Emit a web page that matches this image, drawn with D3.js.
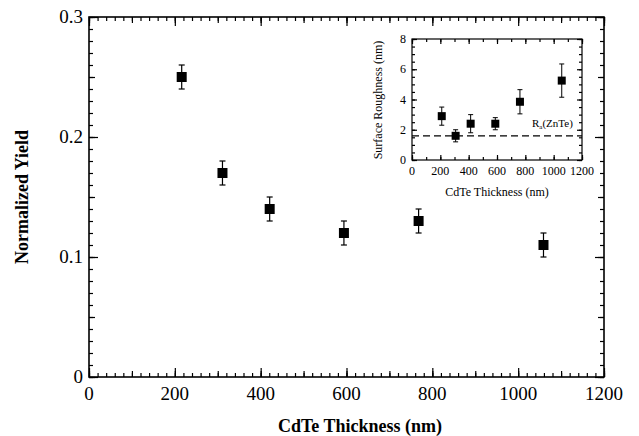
<!DOCTYPE html>
<html>
<head>
<meta charset="utf-8">
<script src="https://cdn.jsdelivr.net/npm/d3@7"></script>
<style>
  body { margin: 0; background: #fff; }
  svg { display: block; font-family: "Liberation Serif", "Times New Roman", serif; }
</style>
</head>
<body>
<div id="chart"></div>
<script>
// main panel: normalized yield vs CdTe thickness
var thickness = [216, 311, 421, 594, 768, 1059];
var yieldVals = [0.25, 0.17, 0.14, 0.12, 0.13, 0.11];
var yieldErr = [0.01, 0.01, 0.01, 0.01, 0.01, 0.01];
var xTickLabels = [0, 200, 400, 600, 800, 1000, 1200];
var yTickLabels = [0, 0.1, 0.2, 0.3];

// inset: surface roughness vs CdTe thickness
var insetThickness = [210, 308, 414, 588, 762, 1057];
var roughness = [2.9, 1.6, 2.4, 2.4, 3.85, 5.25];
var roughErr = [0.6, 0.4, 0.6, 0.4, 0.8, 1.1];
var insetYTickLabels = [0, 2, 4, 6, 8];
var raZnTe = 1.6;

var width = 639, height = 436;

var svg = d3.select('#chart').append('svg')
    .attr('width', width)
    .attr('height', height);

/* Main scales */
var x = d3.scaleLinear().domain([0, 1200]).range([89, 604]);
var y = d3.scaleLinear().domain([0, 0.3]).range([377, 17]);

/* Inset scales */
var xi = d3.scaleLinear().domain([0, 1200]).range([412, 582]);
var yi = d3.scaleLinear().domain([0, 8]).range([160, 39]);

function drawTicks(g, scale, orient, values, len) {
    var axisFn = {bottom: d3.axisBottom, top: d3.axisTop, left: d3.axisLeft, right: d3.axisRight}[orient];
    var axis = axisFn(scale).tickValues(values).tickSize(-len).tickFormat('');
    var r = (orient === 'bottom' || orient === 'top') ? y.range() : x.range();
    g.call(axis);
    g.select('.domain').remove();
    g.selectAll('line').attr('stroke', '#000').attr('stroke-width', 1.2);
}

function frame(xs, ys, opts) {
    var xr = xs.range(), yr = ys.range();
    var pos = {
        bottom: 'translate(0,' + yr[0] + ')',
        top: 'translate(0,' + yr[1] + ')',
        left: 'translate(' + xr[0] + ',0)',
        right: 'translate(' + xr[1] + ',0)'
    };
    opts.sets.forEach(function (s) {
        ['bottom', 'top'].forEach(function (o) {
            drawTicks(svg.append('g').attr('transform', pos[o]), xs, o, s.xv, s.len);
        });
        ['left', 'right'].forEach(function (o) {
            drawTicks(svg.append('g').attr('transform', pos[o]), ys, o, s.yv, s.len);
        });
    });
    svg.append('rect')
        .attr('x', xr[0]).attr('y', yr[1])
        .attr('width', xr[1] - xr[0]).attr('height', yr[0] - yr[1])
        .attr('fill', 'none').attr('stroke', '#000').attr('stroke-width', opts.sw);
}

/* Main frame with minor/medium/major ticks */
frame(x, y, {
    sw: 1.6,
    sets: [
        {xv: d3.range(0, 1201, 20), yv: d3.range(0, 0.3001, 0.01), len: 4},
        {xv: d3.range(0, 1201, 100), yv: d3.range(0, 0.3001, 0.05), len: 6},
        {xv: xTickLabels, yv: yTickLabels, len: 9}
    ]
});

svg.append('g').selectAll('text').data(xTickLabels).enter().append('text')
    .attr('x', function (d) { return x(d); })
    .attr('y', 400)
    .attr('text-anchor', 'middle')
    .attr('font-size', 19)
    .text(function (d) { return d; });

svg.append('g').selectAll('text').data(yTickLabels).enter().append('text')
    .attr('x', 83)
    .attr('y', function (d) { return y(d) + 6; })
    .attr('text-anchor', 'end')
    .attr('font-size', 19)
    .text(function (d) { return d === 0 ? '0' : d3.format('.1f')(d); });

svg.append('text')
    .attr('x', 360).attr('y', 432)
    .attr('text-anchor', 'middle')
    .attr('font-size', 18).attr('font-weight', 'bold')
    .text('CdTe Thickness (nm)');

svg.append('text')
    .attr('transform', 'translate(28,197) rotate(-90)')
    .attr('text-anchor', 'middle')
    .attr('font-size', 18).attr('font-weight', 'bold')
    .text('Normalized Yield');

/* Main data */
var mainPts = svg.append('g').selectAll('g').data(thickness).enter().append('g');
mainPts.append('line')
    .attr('x1', function (d) { return x(d); })
    .attr('x2', function (d) { return x(d); })
    .attr('y1', function (d, i) { return y(yieldVals[i] - yieldErr[i]); })
    .attr('y2', function (d, i) { return y(yieldVals[i] + yieldErr[i]); })
    .attr('stroke', '#000').attr('stroke-width', 1.2);
[-1, 1].forEach(function (s) {
    mainPts.append('line')
        .attr('x1', function (d) { return x(d) - 3; })
        .attr('x2', function (d) { return x(d) + 3; })
        .attr('y1', function (d, i) { return y(yieldVals[i] + s * yieldErr[i]); })
        .attr('y2', function (d, i) { return y(yieldVals[i] + s * yieldErr[i]); })
        .attr('stroke', '#000').attr('stroke-width', 1.2);
});
mainPts.append('rect')
    .attr('x', function (d) { return x(d) - 5; })
    .attr('y', function (d, i) { return y(yieldVals[i]) - 5; })
    .attr('width', 10).attr('height', 10)
    .attr('fill', '#000');

/* Inset frame */
frame(xi, yi, {
    sw: 1.2,
    sets: [
        {xv: d3.range(0, 1201, 100), yv: d3.range(0, 8.001, 0.5), len: 3},
        {xv: d3.range(0, 1201, 200), yv: insetYTickLabels, len: 5}
    ]
});

svg.append('g').selectAll('text').data(d3.range(0, 1201, 200)).enter().append('text')
    .attr('x', function (d) { return xi(d); })
    .attr('y', 175)
    .attr('text-anchor', 'middle')
    .attr('font-size', 12)
    .text(function (d) { return d; });

svg.append('g').selectAll('text').data(insetYTickLabels).enter().append('text')
    .attr('x', 406)
    .attr('y', function (d) { return yi(d) + 4; })
    .attr('text-anchor', 'end')
    .attr('font-size', 12)
    .text(function (d) { return d; });

svg.append('text')
    .attr('x', 497).attr('y', 196)
    .attr('text-anchor', 'middle')
    .attr('font-size', 12)
    .text('CdTe Thickness (nm)');

svg.append('text')
    .attr('transform', 'translate(382,100) rotate(-90)')
    .attr('text-anchor', 'middle')
    .attr('font-size', 12)
    .text('Surface Roughness (nm)');

/* Dashed R_a(ZnTe) reference line */
svg.append('line')
    .attr('x1', xi(0)).attr('x2', xi(1200))
    .attr('y1', yi(raZnTe)).attr('y2', yi(raZnTe))
    .attr('stroke', '#000').attr('stroke-width', 1.3)
    .attr('stroke-dasharray', '7,4');

var raLabel = svg.append('text')
    .attr('x', 532).attr('y', 127)
    .attr('font-size', 11);
raLabel.append('tspan').text('R');
raLabel.append('tspan').attr('font-size', 7).attr('dy', 2).text('a');
raLabel.append('tspan').attr('dy', -2).text('(ZnTe)');

/* Inset data */
var insetPts = svg.append('g').selectAll('g').data(insetThickness).enter().append('g');
insetPts.append('line')
    .attr('x1', function (d) { return xi(d); })
    .attr('x2', function (d) { return xi(d); })
    .attr('y1', function (d, i) { return yi(roughness[i] - roughErr[i]); })
    .attr('y2', function (d, i) { return yi(roughness[i] + roughErr[i]); })
    .attr('stroke', '#000').attr('stroke-width', 1);
[-1, 1].forEach(function (s) {
    insetPts.append('line')
        .attr('x1', function (d) { return xi(d) - 2.5; })
        .attr('x2', function (d) { return xi(d) + 2.5; })
        .attr('y1', function (d, i) { return yi(roughness[i] + s * roughErr[i]); })
        .attr('y2', function (d, i) { return yi(roughness[i] + s * roughErr[i]); })
        .attr('stroke', '#000').attr('stroke-width', 1);
});
insetPts.append('rect')
    .attr('x', function (d) { return xi(d) - 4; })
    .attr('y', function (d, i) { return yi(roughness[i]) - 4; })
    .attr('width', 8).attr('height', 8)
    .attr('fill', '#000');
</script>
</body>
</html>
